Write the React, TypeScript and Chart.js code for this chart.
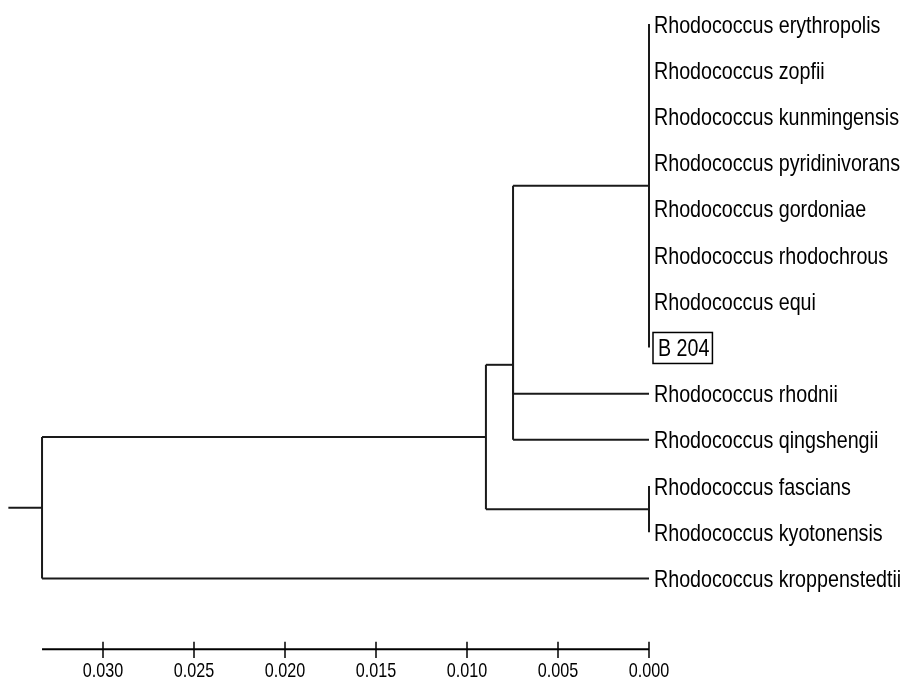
import React, { useEffect, useRef } from "react";
import { Chart, registerables } from "chart.js";

Chart.register(...registerables);

// ---- data ----
const leafLabels = [
  "Rhodococcus erythropolis",
  "Rhodococcus zopfii",
  "Rhodococcus kunmingensis",
  "Rhodococcus pyridinivorans",
  "Rhodococcus gordoniae",
  "Rhodococcus rhodochrous",
  "Rhodococcus equi",
  "B 204",
  "Rhodococcus rhodnii",
  "Rhodococcus qingshengii",
  "Rhodococcus fascians",
  "Rhodococcus kyotonensis",
  "Rhodococcus kroppenstedtii",
];
const boxedLabels = ["B 204"];

// internal nodes: N0..N5 (N5 = root); children "L#" = leaf index, "N#" = node index
const nodeChildren = [
  ["L0", "L1", "L2", "L3", "L4", "L5", "L6", "L7"],
  ["N0", "L8"],
  ["N1", "L9"],
  ["L10", "L11"],
  ["N2", "N3"],
  ["N4", "L12"],
];
const nodeHeights = [0.0, 0.00747, 0.00747, 0.0, 0.00896, 0.03335];
const rootStubHeight = 0.0352;

const axisTicks = [0.0, 0.005, 0.01, 0.015, 0.02, 0.025, 0.03];
const axisRow = 13.53;

function hasFont(name: string): boolean {
  const c = document.createElement("canvas").getContext("2d");
  if (!c) return false;
  const s = "Rhodococcus kroppenstedtii 0.030";
  c.font = "40px monospace";
  const a = c.measureText(s).width;
  c.font = `40px "${name}", monospace`;
  const b = c.measureText(s).width;
  return Math.abs(a - b) > 0.5;
}

export default function App() {
  const ref = useRef<HTMLCanvasElement | null>(null);

  useEffect(() => {
    if (!ref.current) return;

    let family = "'Liberation Sans', Arial, sans-serif";
    let sx = 0.82;
    if (hasFont("Liberation Sans Narrow")) {
      family = "'Liberation Sans Narrow'";
      sx = 1;
    } else if (hasFont("Arial Narrow")) {
      family = "'Arial Narrow'";
      sx = 1;
    }
    const narrow = sx === 1;

    // compute y positions
    const nodeY: number[] = [];
    const yOf = (id: string): number =>
      id[0] === "L" ? parseInt(id.slice(1), 10) : nodeY[parseInt(id.slice(1), 10)];
    const hOf = (id: string): number =>
      id[0] === "L" ? 0 : nodeHeights[parseInt(id.slice(1), 10)];
    nodeChildren.forEach((ch, k) => {
      nodeY[k] = ch.reduce((s, c) => s + yOf(c), 0) / ch.length;
    });

    const segs: { x: number; y: number }[][] = [];
    nodeChildren.forEach((ch, k) => {
      const h = nodeHeights[k];
      const ys = ch.map(yOf);
      segs.push([
        { x: h, y: Math.min(...ys) },
        { x: h, y: Math.max(...ys) },
      ]);
      ch.forEach((c) => {
        const ch_h = hOf(c);
        if (ch_h !== h) segs.push([{ x: h, y: yOf(c) }, { x: ch_h, y: yOf(c) }]);
      });
    });
    const rootIdx = nodeChildren.length - 1;
    segs.push([
      { x: rootStubHeight, y: nodeY[rootIdx] },
      { x: nodeHeights[rootIdx], y: nodeY[rootIdx] },
    ]);

    const treeSets = segs.map((d) => ({
      data: d,
      showLine: true,
      borderColor: "#1a1a1a",
      borderWidth: 2,
      pointRadius: 0,
      clip: false as const,
    }));
    const axisSets = [
      {
        data: [
          { x: nodeHeights[rootIdx], y: axisRow },
          { x: 0, y: axisRow },
        ],
        showLine: true,
        borderColor: "#000",
        borderWidth: 2,
        pointRadius: 0,
        clip: false as const,
      },
      ...axisTicks.map((t) => ({
        data: [
          { x: t, y: axisRow - 0.16 },
          { x: t, y: axisRow + 0.19 },
        ],
        showLine: true,
        borderColor: "#000",
        borderWidth: 1.5,
        pointRadius: 0,
        clip: false as const,
      })),
    ];

    const labelPlugin = {
      id: "leafLabels",
      afterDatasetsDraw(chart: any) {
        const ctx = chart.ctx;
        const xs = chart.scales.x;
        const ysc = chart.scales.y;
        const x0 = xs.getPixelForValue(0) + 5;
        ctx.save();
        ctx.fillStyle = "#000";
        ctx.strokeStyle = "#000";
        ctx.font = `24px ${family}`;
        ctx.textBaseline = "alphabetic";
        ctx.textAlign = "left";
        leafLabels.forEach((lab, i) => {
          const y = ysc.getPixelForValue(i);
          const boxed = boxedLabels.includes(lab);
          const tx = boxed ? x0 + 4 : x0;
          ctx.save();
          ctx.translate(tx, y + 8.5);
          ctx.scale(sx, 1);
          ctx.fillText(lab, 0, 0);
          ctx.restore();
          if (boxed) {
            const w = ctx.measureText(lab).width * sx;
            ctx.lineWidth = 1.5;
            ctx.strokeRect(x0 - 1, y - 15, w + 8, 31);
          }
        });

        // scale-bar tick labels, taken from the x scale's own ticks
        const tsx = narrow ? 1 : 0.77;
        ctx.font = `${narrow ? 20 : 21}px ${family}`;
        ctx.textAlign = "center";
        const yLab = ysc.getPixelForValue(axisRow) + 28;
        xs.ticks.forEach((t: any) => {
          const px = xs.getPixelForValue(t.value);
          ctx.save();
          ctx.translate(px, yLab);
          ctx.scale(tsx, 1);
          ctx.fillText(Number(t.value).toFixed(3), 0, 0);
          ctx.restore();
        });
        ctx.restore();
      },
    };

    const chart = new Chart(ref.current, {
      type: "scatter",
      data: { datasets: [...treeSets, ...axisSets] as any },
      options: {
        animation: false,
        responsive: false,
        maintainAspectRatio: false,
        layout: { padding: { left: 8, right: 253, top: 1, bottom: 25 } },
        plugins: { legend: { display: false }, tooltip: { enabled: false } },
        scales: {
          x: {
            type: "linear",
            reverse: true,
            min: 0,
            max: 0.03522,
            afterBuildTicks: (s: any) => {
              s.ticks = axisTicks.map((v) => ({ value: v }));
            },
            grid: { display: false, drawTicks: false },
            border: { display: false },
            ticks: {
              display: false,
              autoSkip: false,
              callback: (v: any) => Number(v).toFixed(3),
            },
          },
          y: {
            type: "linear",
            reverse: true,
            min: -0.5,
            max: 13.7,
            display: false,
          },
        },
      },
      plugins: [labelPlugin],
    });
    return () => chart.destroy();
  }, []);

  return (
    <div style={{ position: "fixed", left: 0, top: 0, width: 902, height: 682, background: "#fff" }}>
      <canvas ref={ref} width={902} height={682} style={{ display: "block" }} />
    </div>
  );
}
